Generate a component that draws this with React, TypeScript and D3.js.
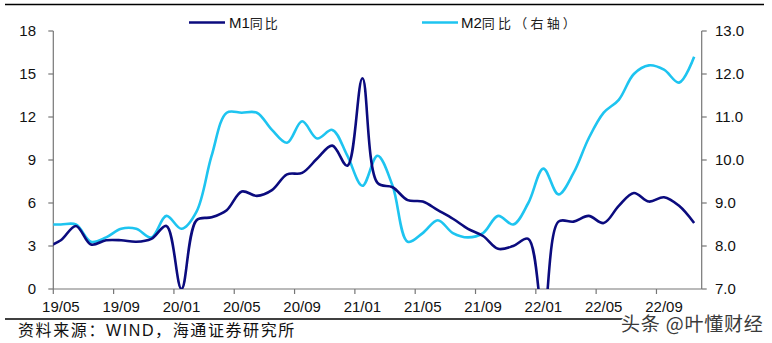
import React from "react";
import * as d3 from "d3";

// Months: first entry (19/04) lies just left of the plot and is clipped
const months = [
  "19/04","19/05","19/06","19/07","19/08","19/09","19/10","19/11","19/12",
  "20/01","20/02","20/03","20/04","20/05","20/06","20/07","20/08","20/09","20/10","20/11","20/12",
  "21/01","21/02","21/03","21/04","21/05","21/06","21/07","21/08","21/09","21/10","21/11","21/12",
  "22/01","22/02","22/03","22/04","22/05","22/06","22/07","22/08","22/09","22/10","22/11",
];
const m1 = [
  2.9, 3.4, 4.4, 3.1, 3.4, 3.4, 3.3, 3.5, 4.4,
  0.0, 4.8, 5.0, 5.5, 6.8, 6.5, 6.9, 8.0, 8.1, 9.1, 10.0, 8.6,
  14.7, 7.4, 7.1, 6.2, 6.1, 5.5, 4.9, 4.2, 3.7, 2.8, 3.0, 3.5,
  -1.9, 4.7, 4.7, 5.1, 4.6, 5.8, 6.7, 6.1, 6.4, 5.8, 4.6,
];
const m2 = [
  8.5, 8.5, 8.5, 8.1, 8.2, 8.4, 8.4, 8.2, 8.7,
  8.4, 8.8, 10.1, 11.1, 11.1, 11.1, 10.7, 10.4, 10.9, 10.5, 10.7, 10.1,
  9.4, 10.1, 9.4, 8.1, 8.3, 8.6, 8.3, 8.2, 8.3, 8.7, 8.5, 9.0,
  9.8, 9.2, 9.7, 10.5, 11.1, 11.4, 12.0, 12.2, 12.1, 11.8, 12.4,
];
const categories = months.slice(1); // 19/05 .. 22/11 on the axis
const xTickLabels = ["19/05","19/09","20/01","20/05","20/09","21/01","21/05","21/09","22/01","22/05","22/09"];
const leftTicks = [0, 3, 6, 9, 12, 15, 18];
const rightTicks = [7, 8, 9, 10, 11, 12, 13];

const W = 772, H = 343;
const L = 53.3, R = 701.7, T = 31, B = 289;
const latin = "'Liberation Sans', Arial, sans-serif";
const cjk = "'Noto Sans CJK SC', sans-serif";
const M1C = "#0b0b7e";
const M2C = "#1ec4f0";
const AX = "#767676";

export default function App() {
  const n = categories.length;
  const x = d3.scaleLinear().domain([-0.5, n - 0.5]).range([L, R]);
  const yL = d3.scaleLinear().domain([0, 18]).range([B, T]);
  const yR = d3.scaleLinear().domain([7, 13]).range([B, T]);
  const idx = (m: string) => categories.indexOf(m);
  const curve = d3.curveCatmullRom.alpha(0.5);
  const l1 = d3.line<number>().x((_, i) => x(i - 1)).y((d) => yL(d)).curve(curve);
  const l2 = d3.line<number>().x((_, i) => x(i - 1)).y((d) => yR(d)).curve(curve);

  return (
    <svg width={W} height={H} style={{ position: "absolute", left: 0, top: 0, background: "#fff" }}>
      <defs>
        <clipPath id="plot">
          <rect x={L} y={T - 20} width={R - L} height={B - T + 20} />
        </clipPath>
      </defs>
      <rect width={W} height={H} fill="#fff" />
      {/* top border */}
      <line x1={5} x2={764} y1={4.5} y2={4.5} stroke="#000" strokeWidth={1.5} />
      {/* bottom separator */}
      <line x1={5} x2={624} y1={319} y2={319} stroke="#000" strokeWidth={1.3} />

      {/* axes */}
      <line x1={L} x2={L} y1={T} y2={B} stroke={AX} strokeWidth={1.2} />
      <line x1={R} x2={R} y1={T} y2={B} stroke={AX} strokeWidth={1.2} />
      <line x1={L} x2={R} y1={B} y2={B} stroke={AX} strokeWidth={1.2} />
      {leftTicks.map((t) => (
        <g key={"l" + t}>
          <line x1={L - 5} x2={L} y1={yL(t)} y2={yL(t)} stroke={AX} strokeWidth={1.2} />
          <text x={36} y={yL(t)} dy="0.36em" textAnchor="end" fontFamily={latin} fontSize={15} fill="#111">{t}</text>
        </g>
      ))}
      {rightTicks.map((t) => (
        <g key={"r" + t}>
          <line x1={R} x2={R + 5} y1={yR(t)} y2={yR(t)} stroke={AX} strokeWidth={1.2} />
          <text x={715} y={yR(t)} dy="0.36em" textAnchor="start" fontFamily={latin} fontSize={15} fill="#111">{t.toFixed(1)}</text>
        </g>
      ))}
      {xTickLabels.map((m) => {
        const i = idx(m);
        return (
          <g key={m}>
            <line x1={x(i - 0.5)} x2={x(i - 0.5)} y1={B} y2={B + 5} stroke={AX} strokeWidth={1.2} />
            <text x={x(i)} y={312} textAnchor="middle" fontFamily={latin} fontSize={15} fill="#111">{m}</text>
          </g>
        );
      })}

      {/* lines */}
      <g clipPath="url(#plot)">
        <path d={l2(m2) || ""} fill="none" stroke={M2C} strokeWidth={2.6} strokeLinejoin="round" />
        <path d={l1(m1) || ""} fill="none" stroke={M1C} strokeWidth={2.6} strokeLinejoin="round" />
      </g>

      {/* legend */}
      <line x1={189} x2={225} y1={22.5} y2={22.5} stroke={M1C} strokeWidth={2.6} />
      <text x={229} y={28} fontFamily={latin} fontSize={15} fill="#111">
        M1<tspan fontFamily={cjk} fontSize={13} letterSpacing={2} fill="#222">同比</tspan>
      </text>
      <line x1={422} x2={458} y1={22.5} y2={22.5} stroke={M2C} strokeWidth={2.6} />
      <text x={461} y={28} fontFamily={latin} fontSize={15} fill="#111">
        M2<tspan fontFamily={cjk} fontSize={13} letterSpacing={3.2} fill="#222">同比（右轴）</tspan>
      </text>

      {/* source */}
      <text x={18} y={336} fontFamily={cjk} fontSize={16} letterSpacing={1.6} fill="#111">资料来源：<tspan fontFamily={latin}>WIND</tspan>，海通证券研究所</text>

      {/* watermark */}
      <text x={621} y={331} fontFamily={cjk} fontSize={19} fill="#3a3a3a" stroke="#fff" strokeWidth={2.5} paintOrder="stroke" letterSpacing={0.8}>头条 @叶懂财经</text>
    </svg>
  );
}
